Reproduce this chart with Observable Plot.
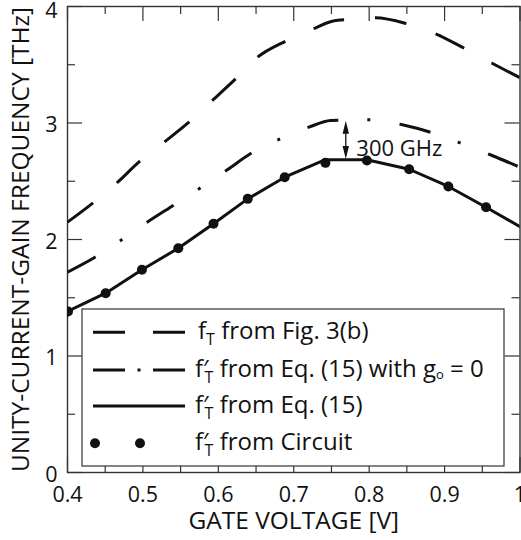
<!DOCTYPE html>
<html><head><meta charset="utf-8">
<script src="https://cdn.jsdelivr.net/npm/d3@7"></script>
<script src="https://cdn.jsdelivr.net/npm/@observablehq/plot@0.6"></script>
<style>body{margin:0;background:#fff} svg{display:block}</style>
</head><body><div id="chart"></div>
<script>
// ---- data ----
const xTicks = [0.4, 0.5, 0.6, 0.7, 0.8, 0.9, 1.0];
const xMinor = [0.45, 0.55, 0.65, 0.75, 0.85, 0.95];
const yTicks = [0, 1, 2, 3, 4];
const yMinor = [0.5, 1.5, 2.5, 3.5];

// f_T from Fig. 3(b) (long dash)
const figX = [0.4, 0.434, 0.465, 0.496, 0.528, 0.561, 0.592, 0.623, 0.652, 0.689, 0.726, 0.751, 0.766, 0.808, 0.850, 0.888, 0.926, 0.963, 1.0];
const figY = [2.149, 2.315, 2.483, 2.672, 2.835, 3.007, 3.193, 3.379, 3.565, 3.702, 3.809, 3.874, 3.886, 3.903, 3.852, 3.766, 3.642, 3.513, 3.388];

// f'_T from Eq. (15) with go = 0 (dash-dot)
const eqGoX = [0.4, 0.437, 0.47, 0.505, 0.542, 0.5755, 0.61, 0.646, 0.682, 0.72, 0.749, 0.776, 0.804, 0.844, 0.885, 0.924, 0.963, 1.0];
const eqGoY = [1.72, 1.85, 1.99, 2.146, 2.30, 2.44, 2.59, 2.75, 2.864, 2.964, 3.021, 3.025, 3.027, 2.985, 2.913, 2.821, 2.721, 2.62];

// f'_T from Eq. (15) (solid)
const eqX = [0.4, 0.4506, 0.4987, 0.5469, 0.5936, 0.639, 0.688, 0.742, 0.797, 0.853, 0.905, 0.955, 1.0];
const eqY = [1.382, 1.539, 1.740, 1.925, 2.135, 2.349, 2.535, 2.685, 2.685, 2.603, 2.455, 2.277, 2.11];

// f'_T from Circuit (dots)
const circX = [0.4007, 0.4506, 0.4987, 0.5469, 0.5936, 0.639, 0.688, 0.742, 0.797, 0.853, 0.905, 0.955];
const circY = [1.382, 1.539, 1.740, 1.925, 2.135, 2.349, 2.535, 2.658, 2.678, 2.603, 2.455, 2.277];

// 300 GHz gap annotation
const gapX = 0.769, gapTop = 3.02, gapBottom = 2.69;
const gapLabel = "300 GHz";
const gapLabelX = 0.783, gapLabelY = 2.72;

const xTitle = "GATE VOLTAGE [V]";
const yTitle = "UNITY-CURRENT-GAIN FREQUENCY [THz]";

const legendText = [
  [{t: "f"}, {t: "T", sub: true}, {t: " from Fig. 3(b)"}],
  [{t: "f"}, {t: "′", prime: true}, {t: "T", sub: true}, {t: " from Eq. (15) with g"}, {t: "o", small: true}, {t: " = 0"}],
  [{t: "f"}, {t: "′", prime: true}, {t: "T", sub: true}, {t: " from Eq. (15)"}],
  [{t: "f"}, {t: "′", prime: true}, {t: "T", sub: true}, {t: " from Circuit"}]
];

// ---- layout ----
const W = 521, H = 540, mL = 67, mR = 1.5, mT = 6, mB = 68;
const innerW = W - mL - mR, innerH = H - mT - mB;
const font = "'Open Sans', 'DejaVu Sans', sans-serif";
const ink = "#111", frameInk = "#333";
const majorLen = 15, minorLen = 8;
const fsTick = 21.5, fsTitle = 24.5, fsLegend = 24, fsNote = 22;

const zip = (xs, ys) => xs.map((x, i) => ({x, y: ys[i]}));

const arrowUp = {draw(ctx) { ctx.moveTo(0, 0); ctx.lineTo(3.2, 13); ctx.lineTo(-3.2, 13); ctx.closePath(); }};
const arrowDown = {draw(ctx) { ctx.moveTo(0, 0); ctx.lineTo(3.2, -13); ctx.lineTo(-3.2, -13); ctx.closePath(); }};

const tickStyle = {stroke: frameInk, strokeWidth: 1.2};

const plot = Plot.plot({
  width: W, height: H,
  marginLeft: mL, marginRight: mR, marginTop: mT, marginBottom: mB,
  style: {fontFamily: font, fontSize: fsTick + "px", color: ink, background: "#fff", overflow: "hidden"},
  x: {domain: [0.4, 1], label: null},
  y: {domain: [0, 4], label: null},
  marks: [
    // inward ticks
    Plot.tickX(xTicks, {x: d => d, insetTop: innerH - majorLen, ...tickStyle}),
    Plot.tickX(xMinor, {x: d => d, insetTop: innerH - minorLen, ...tickStyle}),
    Plot.tickX(xTicks, {x: d => d, insetBottom: innerH - majorLen, ...tickStyle}),
    Plot.tickX(xMinor, {x: d => d, insetBottom: innerH - minorLen, ...tickStyle}),
    Plot.tickY(yTicks, {y: d => d, insetRight: innerW - majorLen, ...tickStyle}),
    Plot.tickY(yMinor, {y: d => d, insetRight: innerW - minorLen, ...tickStyle}),
    Plot.tickY(yTicks, {y: d => d, insetLeft: innerW - majorLen, ...tickStyle}),
    Plot.tickY(yMinor, {y: d => d, insetLeft: innerW - minorLen, ...tickStyle}),
    Plot.frame({stroke: frameInk, strokeWidth: 1.4}),
    // tick labels
    Plot.axisX(xTicks, {tickSize: 0, tickPadding: 14, label: null, fontSize: fsTick,
      tickFormat: d => d === 1 ? "1" : d.toFixed(1)}),
    Plot.axisY([0, 1, 2, 3], {tickSize: 0, tickPadding: 10, dy: 2.5, label: null, fontSize: fsTick, tickFormat: d => String(d)}),
    Plot.axisY([4], {tickSize: 0, tickPadding: 10, dy: 5, label: null, fontSize: fsTick, tickFormat: d => String(d)}),
    // titles
    Plot.text([xTitle], {frameAnchor: "bottom", dy: 56, lineAnchor: "bottom", textAnchor: "middle", fontSize: fsTitle, fill: ink}),
    Plot.text([yTitle], {frameAnchor: "left", dx: -46, rotate: -90, lineAnchor: "middle", textAnchor: "middle", fontSize: fsTitle, fill: ink}),
    // curves
    Plot.line(zip(figX, figY), {x: "x", y: "y", stroke: ink, strokeWidth: 3, strokeDasharray: "32,31",
      strokeLinecap: "butt", curve: "monotone-x", clip: true}),
    Plot.line(zip(eqGoX, eqGoY), {x: "x", y: "y", stroke: ink, strokeWidth: 3, strokeDasharray: "32,29,3,29.6",
      strokeLinecap: "butt", curve: "monotone-x", clip: true}),
    Plot.line(zip(eqX, eqY), {x: "x", y: "y", stroke: ink, strokeWidth: 3, clip: true}),
    Plot.dot(zip(circX, circY), {x: "x", y: "y", r: 5, fill: ink, stroke: "none", clip: true}),
    // gap annotation
    Plot.ruleX([gapX], {x: d => d, y1: gapBottom + 0.05, y2: gapTop - 0.05, stroke: ink, strokeWidth: 1.3}),
    Plot.dot([{x: gapX, y: gapTop}], {x: "x", y: "y", symbol: arrowUp, r: 4, fill: ink, stroke: "none"}),
    Plot.dot([{x: gapX, y: gapBottom}], {x: "x", y: "y", symbol: arrowDown, r: 4, fill: ink, stroke: "none"}),
    Plot.text([gapLabel], {x: () => gapLabelX, y: () => gapLabelY, textAnchor: "start", lineAnchor: "bottom", fontSize: fsNote, fill: ink})
  ]
});

// ---- legend (pixel layout inside the frame) ----
const svg = d3.select(plot);
const lg = svg.append("g").attr("font-family", font).attr("font-size", fsLegend).attr("fill", ink).attr("text-anchor", "start");
lg.append("rect").attr("x", 82).attr("y", 309).attr("width", 422).attr("height", 157)
  .attr("fill", "#fff").attr("stroke", frameInk).attr("stroke-width", 1.2);
const rowY = [332.3, 370, 406, 443.3];
const sx0 = 93, sx1 = 185;
const sample = (y, dash) => lg.append("line").attr("x1", sx0).attr("x2", sx1).attr("y1", y).attr("y2", y)
  .attr("stroke", ink).attr("stroke-width", 3).attr("stroke-dasharray", dash);
sample(rowY[0], "32,28");
sample(rowY[1], "32,12.5,3,12.5");
sample(rowY[2], null);
[95, 140].forEach(cx => lg.append("circle").attr("cx", cx).attr("cy", rowY[3]).attr("r", 5).attr("fill", ink));

function hasP(segs) { return segs.some(q => q.prime); }
legendText.forEach((segs, i) => {
  const hasPrime = hasP(segs);
  const t = lg.append("text").attr("x", hasPrime ? 195 : 198).attr("y", rowY[i] + 7);
  let shift = 0;
  segs.forEach(s => {
    const ts = t.append("tspan").text(s.t);
    if (s.sub) { ts.attr("font-size", 16).attr("dy", 5.5 - shift); shift = 5.5; if (hasPrime) ts.attr("dx", -4); }
    else if (s.small) { ts.attr("font-size", 13).attr("dy", 2 - shift); shift = 2; }
    else { ts.attr("dy", -shift); shift = 0; }
  });
});

document.getElementById("chart").appendChild(plot);
</script>
</body></html>
